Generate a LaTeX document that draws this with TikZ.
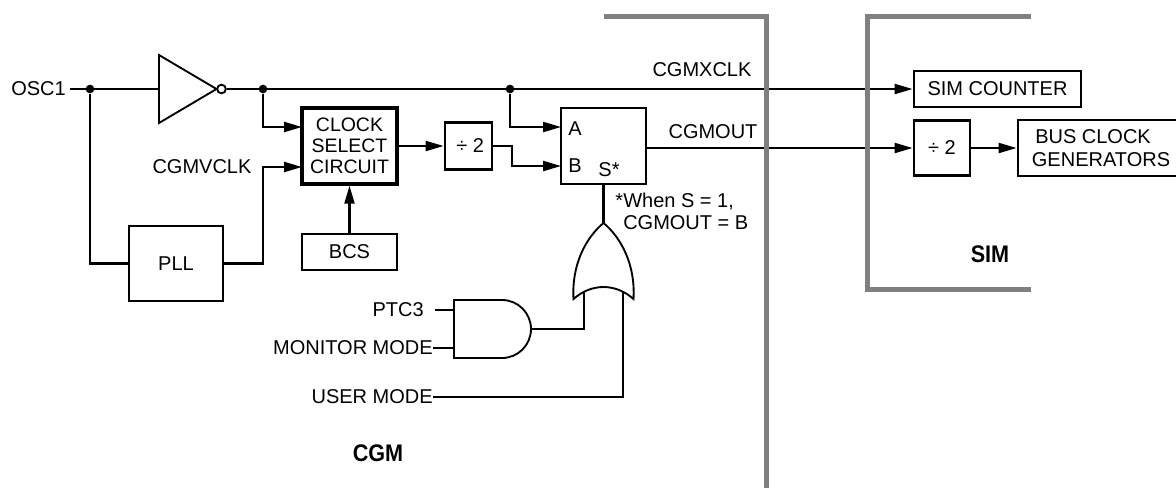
\documentclass[tikz,border=0pt]{standalone}
\usepackage{fontspec}
\setmainfont{Liberation Sans}
\newfontfamily\tagfont[FakeStretch=0.9]{Liberation Sans}
\usepackage{xcolor}
\usetikzlibrary{arrows.meta}
\definecolor{bndgray}{RGB}{128,128,128}
\tikzset{
  wire/.style={line width=1.6pt},
  arr/.style={wire, -{Triangle[length=13.5pt,width=7.5pt]}},
  blk/.style={draw, line width=2.1pt, inner sep=0pt, align=center, font=\fontsize{15}{17}\selectfont},
  lbl/.style={inner sep=0pt, font=\fontsize{15}{17}\selectfont},
  tag/.style={inner sep=0pt, font=\fontsize{18}{20}\tagfont\bfseries},
  dot/.style={circle, fill, inner sep=0pt, minimum size=6.5pt},
  gate/.style={line width=1.4pt},
  bound/.style={line width=3.75pt, color=bndgray},
}
\begin{document}
\begin{tikzpicture}[x=0.75pt,y=0.75pt,yscale=-1,xscale=1]
\useasboundingbox (0,0) rectangle (1176,487);

%Shape: Rectangle
\node[blk, line width=2.5pt, minimum width=71.25pt, minimum height=57pt, font=\fontsize{14.6}{15.8}\selectfont] (sel) at (349.5,146) {CLOCK\\SELECT\\CIRCUIT};
\node[blk, minimum width=70.5pt, minimum height=56.25pt] (pll) at (176,263.5) {PLL};
\node[blk, line width=1.6pt, minimum width=70.9pt, minimum height=27.4pt] (bcs) at (349.5,252) {BCS};
\node[blk, minimum width=35.25pt, minimum height=35.25pt] (div) at (468.5,146) {\,÷ 2};
\node[blk, minimum width=63.75pt, minimum height=57pt] (mux) at (603.5,146) {};
\node[blk, minimum width=125.25pt, minimum height=27pt] (simcnt) at (997.5,89) {SIM COUNTER};
\node[blk, minimum width=42pt, minimum height=41.25pt] (div2) at (942,148) {÷ 2};
\node[blk, align=left, minimum width=124.5pt, minimum height=42pt, font=\fontsize{15}{17.3}\selectfont] (busgen) at (1101,148) {\hspace{2.5pt}BUS CLOCK\\GENERATORS};

%Shape: Inverter
\draw[gate] (159,55) -- (216.5,89) -- (159,123) -- cycle;
\node[circle, draw, gate, inner sep=0pt, minimum size=6.5pt] (bub) at (221.5,89) {};
\coordinate (invIn) at (159,89);

%Shape: Or Gate
\draw[gate] (573.5,299) .. controls (571.5,265) and (585.5,238) .. (603.5,223) .. controls (621.5,238) and (635.5,265) .. (633.5,299) .. controls (615.5,283) and (591.5,283) .. (573.5,299) -- cycle;
\coordinate (orTip) at (603.5,223);
\coordinate (orL) at (584,292);
\coordinate (orR) at (623,292);

%Shape: And Gate
\draw[gate] (454,300) -- (502,300) .. controls (518,300) and (531,313) .. (531,329) .. controls (531,345) and (518,358) .. (502,358) -- (454,358) -- cycle;
\coordinate (andA) at (454,310);
\coordinate (andB) at (454,348);
\coordinate (andO) at (531,329);

% Text Node
\node[lbl, anchor=east, inner xsep=3pt] (osc) at (70,89) {OSC1};
\node[lbl] (vclkL) at (202,167) {CGMVCLK};
\node[lbl] (xclkL) at (702,70) {CGMXCLK};
\node[lbl] (outL) at (713,132) {CGMOUT};
\node[lbl] (muxAL) at (575,129) {A};
\node[lbl] (muxBL) at (575,166) {B};
\node[lbl] (muxSL) at (609,170) {S*};
\node[lbl, anchor=west, align=left, font=\fontsize{15}{16.5}\selectfont] (note) at (623,211) {\llap{*}When S = 1,\\CGMOUT = B};
\node[lbl, anchor=east, inner xsep=8.25pt] (ptc) at (435,310) {PTC3};
\node[lbl, anchor=east] (mon) at (433,348) {MONITOR MODE};
\node[lbl, anchor=east] (usr) at (433,397) {USER MODE};
\node[tag] (cgmL) at (378,453) {CGM};
\node[tag] (simL) at (990,254) {SIM};

% Dots
\node[dot] (d1) at (90,89) {};
\node[dot] (d2) at (263,89) {};
\node[dot] (d3) at (510,89) {};
\coordinate (vclk) at (263,167);
\coordinate (selA) at (302,127);
\coordinate (selB) at (302,167);
\coordinate (dv) at (512,146);
\coordinate (muxA) at (561,127);
\coordinate (muxB) at (561,166);
\coordinate (muxO) at (646,148);

%Straight Lines
\draw[wire] (osc.east) -- (invIn);
\draw[arr] (bub.east) -- (simcnt.west);
\draw[wire] (d1) |- (pll.west);
\draw[arr] (d2) |- (selA);
\draw[arr] (pll.east) -| (vclk) -- (selB);
\draw[arr] (bcs.north) -- (sel.south);
\draw[arr] (sel.east) -- (div.west);
\draw[arr] (div.east) -- (dv) |- (muxB);
\draw[arr] (d3) |- (muxA);
\draw[arr] (muxO) -- (div2.west);
\draw[arr] (div2.east) -- (busgen.west);
\draw[wire] (mux.south) -- (orTip);
\draw[wire] (andO) -| (orL);
\draw[wire] (usr.east) -| (orR);
\draw[wire] (ptc.east) -- (andA);
\draw[wire] (mon.east) -- (andB);

%Boundaries
\draw[bound] (604,16.3) -- (766.3,16.3) -- (766.3,490);
\draw[bound] (1031,16.7) -- (867.5,16.7) -- (867.5,289.8) -- (1031,289.8);

\end{tikzpicture}
\end{document}
